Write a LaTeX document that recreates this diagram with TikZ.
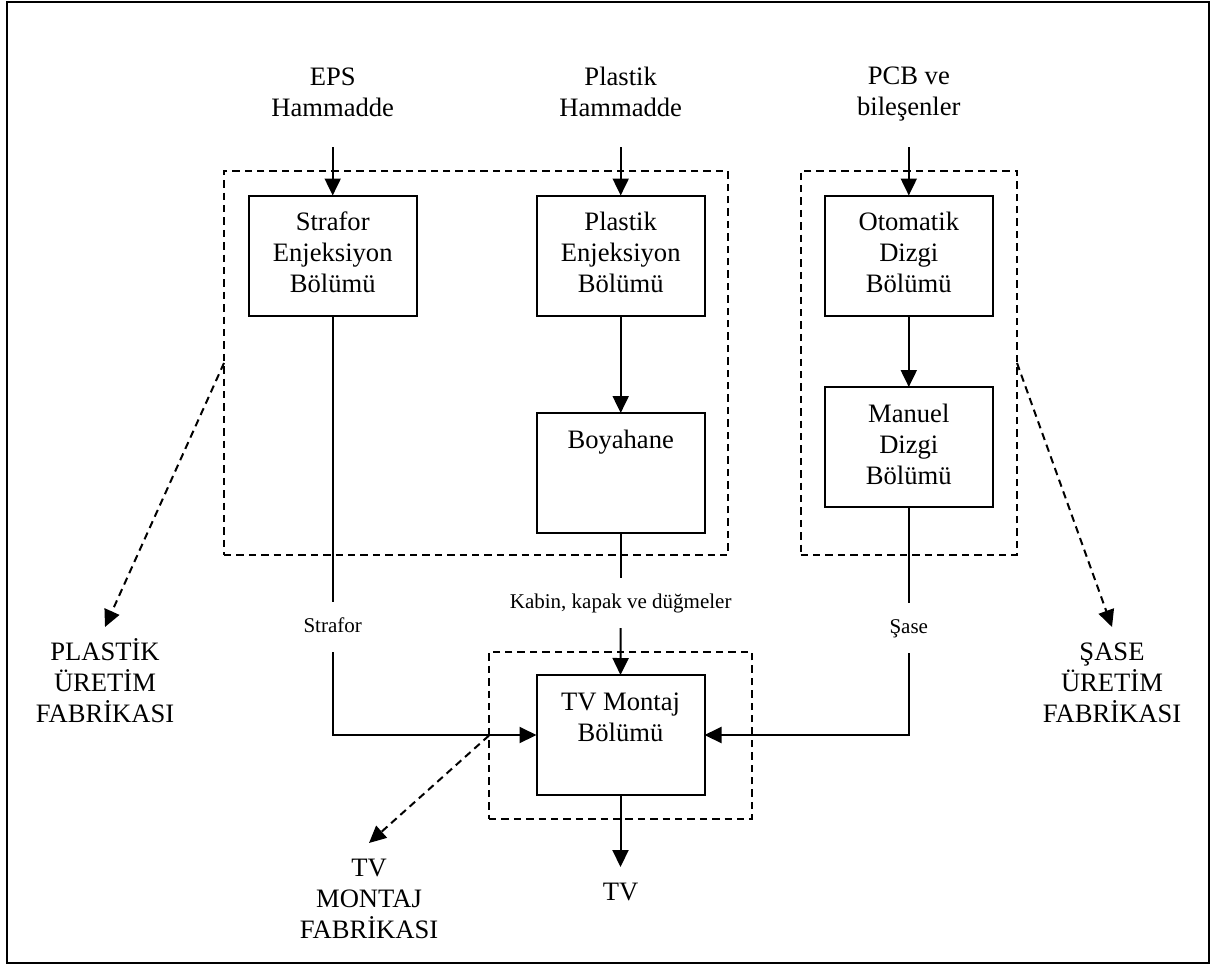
\documentclass[tikz,border=0pt]{standalone}
\usepackage{fontspec}
\setmainfont{Liberation Serif}
\usetikzlibrary{arrows.meta}
\begin{document}
\begin{tikzpicture}[x=0.5pt, y=-0.5pt,
  every node/.style={inner sep=0pt, outer sep=0pt},
  mainfont/.style={font=\fontsize{13.3}{15.5}\selectfont},
  smallfont/.style={font=\fontsize{10.5}{12.6}\selectfont},
  stepbox/.style={draw, line width=1pt, minimum width=84pt, minimum height=60pt},
  boxtext/.style={mainfont, align=center, anchor=base},
  groupbox/.style={draw, line width=1pt, dash pattern=on 3.7pt off 2.5pt},
  plaintext/.style={mainfont, align=center, anchor=base},
  flowlabel/.style={smallfont, anchor=base, inner ysep=7.5pt, text height=7.5pt, text depth=2.5pt},
  flow/.style={line width=1pt},
  flowarrow/.style={line width=1pt, -{Triangle[length=8.5pt, width=8pt]}},
  grouparrow/.style={line width=1pt, dash pattern=on 3.7pt off 2.5pt, -{Triangle[length=8.5pt, width=8pt]}}
]
\useasboundingbox (0,0) rectangle (1226,965);
\draw[line width=1.2pt] (7,2) rectangle (1209,963);

% factory groupings
\node[groupbox, minimum width=252pt, minimum height=192pt] (pdash) at (476,363) {};
\node[groupbox, minimum width=108.2pt, minimum height=192pt] (sdash) at (908.8,363) {};
\node[groupbox, minimum width=131.5pt, minimum height=83.5pt] (tvdash) at (620.5,735.5) {};

% departments (text placed by the baseline of its last line)
\node[stepbox] (s) at (332.7,255.5) {};
\node[boxtext] (st) at ([yshift=-48.5pt]s.north) {Strafor\\Enjeksiyon\\Bölümü};
\node[stepbox] (p) at (620.7,255.5) {};
\node[boxtext] (pt) at ([yshift=-48.5pt]p.north) {Plastik\\Enjeksiyon\\Bölümü};
\node[stepbox] (o) at (908.8,255.5) {};
\node[boxtext] (ot) at ([yshift=-48.5pt]o.north) {Otomatik\\Dizgi\\Bölümü};
\node[stepbox] (b) at (620.7,473) {};
\node[boxtext] (bt) at ([yshift=-17.5pt]b.north) {Boyahane};
\node[stepbox] (m) at (908.8,447) {};
\node[boxtext] (mt) at ([yshift=-48.5pt]m.north) {Manuel\\Dizgi\\Bölümü};
\node[stepbox] (tv) at (620.5,735) {};
\node[boxtext] (tvt) at ([yshift=-33pt]tv.north) {TV Montaj\\Bölümü};

% raw materials
\node[plaintext] (eps) at (332.7,116) {EPS\\Hammadde};
\node[plaintext] (ph) at (620.7,116) {Plastik\\Hammadde};
\node[plaintext] (pcb) at (908.8,115) {PCB ve\\bileşenler};
\coordinate (epsin) at (332.7,147);
\coordinate (phin) at (620.7,147);
\coordinate (pcbin) at (908.8,147);
\draw[flowarrow] (epsin) -- (s.north);
\draw[flowarrow] (phin) -- (p.north);
\draw[flowarrow] (pcbin) -- (o.north);

% internal flows
\draw[flowarrow] (p.south) -- (b.north);
\draw[flowarrow] (o.south) -- (m.north);

% parts to assembly
\node[flowlabel] (lstrafor) at (332.7,632) {Strafor};
\node[flowlabel] (lkabin) at (620.7,608) {Kabin, kapak ve düğmeler};
\node[flowlabel] (lsase) at (908.8,633) {Şase};
\draw[flow] (s.south) -- (lstrafor.north);
\draw[flowarrow] (lstrafor.south) |- (tv.west);
\draw[flow] (b.south) -- (lkabin.north);
\draw[flowarrow] (lkabin.south) -- (tv.north);
\draw[flow] (m.south) -- (lsase.north);
\draw[flowarrow] (lsase.south) |- (tv.east);

% product
\coordinate (tvout) at (620.5,867);
\draw[flowarrow] (tv.south) -- (tvout);
\node[plaintext] (tvl) at (620.5,900) {TV};

% factory names
\coordinate (pf) at (105,627);
\coordinate (sf) at (1112,627);
\coordinate (tf) at (369,843);
\draw[grouparrow] (pdash.west) -- (pf);
\draw[grouparrow] (sdash.east) -- (sf);
\draw[grouparrow] (tvdash.west) -- (tf);
\node[plaintext] (pfl) at (105,722) {PLASTİK\\ÜRETİM\\FABRİKASI};
\node[plaintext] (sfl) at (1112,722) {ŞASE\\ÜRETİM\\FABRİKASI};
\node[plaintext] (tfl) at (369,938) {TV\\MONTAJ\\FABRİKASI};
\end{tikzpicture}
\end{document}
